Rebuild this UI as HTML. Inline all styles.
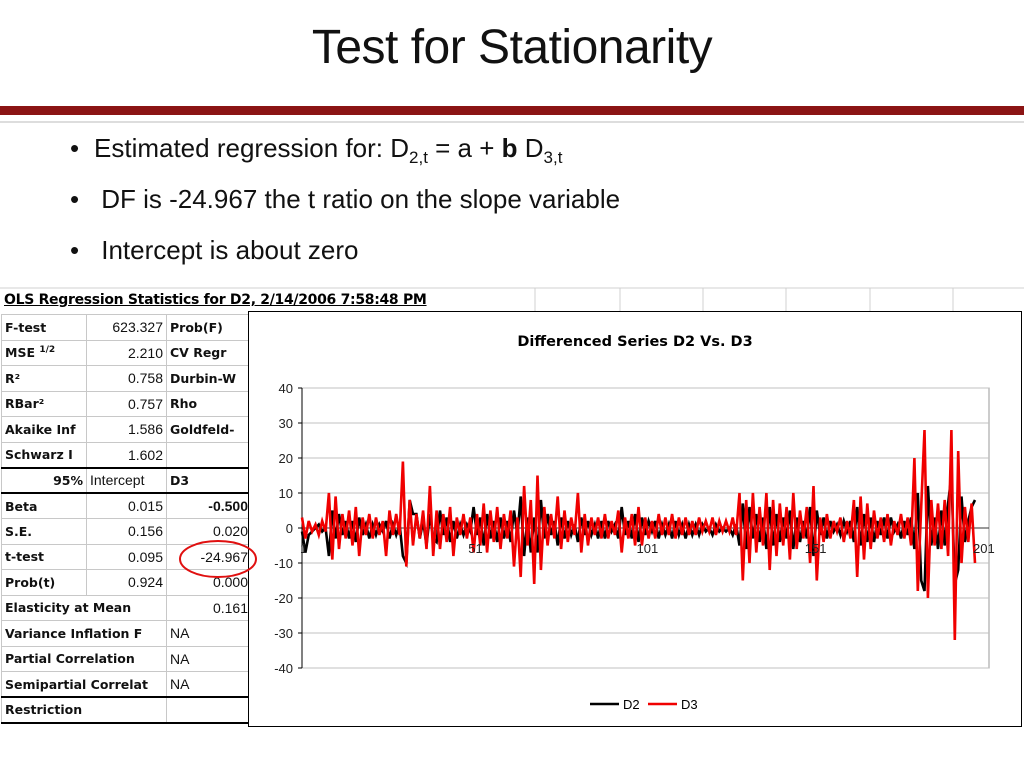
<!DOCTYPE html>
<html><head><meta charset="utf-8"><style>
body{margin:0;width:1024px;height:768px;background:#fff;position:relative;overflow:hidden;font-family:"Liberation Sans",sans-serif}
.abs{position:absolute}
#title{left:0;width:1024px;top:20px;text-align:center;font-size:48px;color:#111;letter-spacing:-0.5px}
.bul{font-size:26px;color:#111;left:70px}
.bul span.dot{display:inline-block;width:24px}
table{border-collapse:collapse;font-family:"DejaVu Sans",sans-serif;font-size:12.5px;font-weight:bold;color:#111;table-layout:fixed}
tr{height:25.5px}
td{border:1px solid #c8c8c8;height:25.5px;padding:0 3px;white-space:nowrap;overflow:hidden;box-sizing:border-box}
td.n{text-align:right;font-weight:normal;font-family:"Liberation Sans",sans-serif;font-size:14px}
tr.thick td{border-bottom:2px solid #000}
</style></head><body>
<div id="title" class="abs">Test for Stationarity</div>
<div class="abs" style="left:0;top:106px;width:1024px;height:9px;background:#8b1414"></div>
<div class="abs" style="left:0;top:121px;width:1024px;height:2px;background:#ddd"></div>
<div class="abs bul" style="top:133px"><span class="dot">•</span>Estimated regression for: D<sub style="font-size:17px">2,t</sub> = a + <b>b</b> D<sub style="font-size:17px">3,t</sub></div>
<div class="abs bul" style="top:184px"><span class="dot">•</span> DF is -24.967 the t ratio on the slope variable</div>
<div class="abs bul" style="top:235px"><span class="dot">•</span> Intercept is about zero</div>

<svg class="abs" style="left:0;top:285px" width="1024" height="30">
<line x1="0" y1="3" x2="1024" y2="3" stroke="#d0d0d0"/>
<g stroke="#d0d0d0"><line x1="535" y1="3" x2="535" y2="30"/><line x1="620" y1="3" x2="620" y2="30"/><line x1="703" y1="3" x2="703" y2="30"/><line x1="786" y1="3" x2="786" y2="30"/><line x1="870" y1="3" x2="870" y2="30"/><line x1="953" y1="3" x2="953" y2="30"/></g>
</svg>
<div class="abs" style="left:4px;top:292px;font-family:'DejaVu Sans',sans-serif;font-size:14px;font-weight:bold;text-decoration:underline;letter-spacing:-0.3px">OLS Regression Statistics for D2, 2/14/2006 7:58:48 PM</div>
<table class="abs" style="left:1px;top:314px;width:250px">
<colgroup><col style="width:85px"><col style="width:80px"><col style="width:85px"></colgroup>
<tr><td>F-test</td><td class="n">623.327</td><td>Prob(F)</td></tr>
<tr><td>MSE <sup style="font-size:9px">1/2</sup></td><td class="n">2.210</td><td>CV Regr</td></tr>
<tr><td>R²</td><td class="n">0.758</td><td>Durbin-W</td></tr>
<tr><td>RBar²</td><td class="n">0.757</td><td>Rho</td></tr>
<tr><td>Akaike Inf</td><td class="n">1.586</td><td>Goldfeld-</td></tr>
<tr class="thick"><td>Schwarz I</td><td class="n">1.602</td><td></td></tr>
<tr class="thick"><td style="text-align:right">95%</td><td style="font-weight:normal;font-family:'Liberation Sans';font-size:14px">Intercept</td><td>D3</td></tr>
<tr><td>Beta</td><td class="n">0.015</td><td class="n" style="font-weight:bold">-0.500</td></tr>
<tr><td>S.E.</td><td class="n">0.156</td><td class="n">0.020</td></tr>
<tr><td>t-test</td><td class="n">0.095</td><td class="n">-24.967</td></tr>
<tr><td>Prob(t)</td><td class="n">0.924</td><td class="n">0.000</td></tr>
<tr><td colspan="2">Elasticity at Mean</td><td class="n">0.161</td></tr>
<tr><td colspan="2">Variance Inflation F</td><td class="n" style="text-align:left">NA</td></tr>
<tr><td colspan="2">Partial Correlation</td><td class="n" style="text-align:left">NA</td></tr>
<tr class="thick"><td colspan="2">Semipartial Correlat</td><td class="n" style="text-align:left">NA</td></tr>
<tr class="thick"><td colspan="2">Restriction</td><td></td></tr>
</table>

<svg id="chart" class="abs" style="left:0;top:0" width="1024" height="768"></svg>
<script>
const d2=[-1,-7,-2,-1,0,1,-1,0,-8,5, -3,4,-2,2,-3,2,-4,3,-2,1, -3,1,-2,1,-1,2,-3,1,-2,1, -8,-10,8,4,4,-3,2,-5,4,-3, -4,5,-2,3,-4,2,-3,1,-2,1, -1,6,-2,3,-5,4,-3,2,-4,3, -3,2,-4,5,-2,9,-8,3,-7,3, -7,8,-3,4,-2,2,-5,3,-3,2, -2,1,-4,3,-2,2,-2,1,-3,2, -3,2,-1,1,-3,6,-2,2,-3,4, -4,3,-2,2,-1,2,-3,1,-2,1, -3,2,-2,1,-3,1,-2,1,-2,1, -1,0,-2,1,-1,0,-1,0,-2,1, -5,7,-6,6,-3,4,-4,3,-6,6, -5,4,-4,3,-3,5,-6,3,-4,2, -3,6,-8,5,-2,3,-3,2,-1,1, -2,2,-1,2,-4,6,-5,4,-4,3, -4,2,-2,3,-3,3,-1,1,-3,2, -2,3,-6,10,-15,-18,12,-5,3,-6, 5,-5,7,15,-16,-12,9,-4,2,6,8];
const d3=[3,-3,2,-1,1,-2,2,-1,10,-9, 9,-6,4,-3,5,-5,6,-8,3,-2, 4,-3,3,-2,2,-8,5,-2,4,-2, 19,-11,8,-5,4,-3,5,-6,12,-8, 5,-6,4,-4,6,-8,3,-2,4,-3, 3,-7,4,-5,7,-7,5,-4,6,-6, 4,-3,5,-11,3,-14,12,-5,8,-16, 15,-12,6,-5,4,-3,9,-6,5,-4, 3,-2,10,-7,4,-5,3,-2,3,-3, 4,-3,2,-2,5,-7,3,-3,4,-5, 6,-5,3,-3,2,-3,4,-2,3,-2, 4,-3,3,-2,3,-2,2,-2,3,-1, 2,-1,3,-2,2,-1,2,-1,3,-2, 10,-15,8,-10,10,-7,6,-5,10,-12, 8,-8,7,-5,6,-9,10,-6,5,-3, 6,-10,12,-15,3,-4,4,-3,2,-1, 3,-4,2,-3,8,-14,9,-9,7,-6, 5,-3,3,-4,4,-5,2,-2,4,-3, 3,-5,20,-18,6,28,-20,8,-5,7, -6,8,-8,28,-32,22,-10,6,-4,7,-10];
const yTicks=[40,30,20,10,0,-10,-20,-30,-40];
const xTicks=[1,51,101,151,201];
const seriesNames=["D2","D3"];
const NS="http://www.w3.org/2000/svg";
const svg=document.getElementById('chart');
function mk(t,a,p){const e=document.createElementNS(NS,t);for(const k in a)e.setAttribute(k,a[k]);(p||svg).appendChild(e);return e;}
const X0=302,X1=989,Y0=388,Y1=668;
const xs=i=>X0+(i-1)*(975-302)/200;
const ys=v=>Y0+(40-v)*(Y1-Y0)/80;
let box=mk('rect',{x:248.5,y:311.5,width:773,height:415,fill:'#fff',stroke:'#000'});


let t=mk('text',{x:635,y:346,'text-anchor':'middle','font-family':'DejaVu Sans,sans-serif','font-weight':'bold','font-size':'14.5'});
t.textContent='Differenced Series D2 Vs. D3';


let pa=mk('rect',{x:X0,y:Y0,width:X1-X0,height:Y1-Y0,fill:'none',stroke:'#999'});


yTicks.forEach(v=>{
  const g=mk('line',{x1:X0,x2:X1,y1:ys(v),y2:ys(v),stroke:v===0?'#333':'#c0c0c0'});
  
  
  mk('line',{x1:X0-4,x2:X0,y1:ys(v),y2:ys(v),stroke:'#000'});
  const l=mk('text',{x:X0-9,y:ys(v)+5,'text-anchor':'end','font-size':'13','font-family':'Liberation Sans,sans-serif',fill:'#222'});
  l.textContent=v;
  
  
});
mk('line',{x1:X0,x2:X0,y1:Y0,y2:Y1,stroke:'#000'});
function path(arr,color,name){
  let d='';arr.forEach((v,i)=>{d+=(i?'L':'M')+xs(i+1).toFixed(1)+','+ys(v).toFixed(1);});
  const p=mk('path',{d:d,fill:'none',stroke:color,'stroke-width':2.6,'stroke-linejoin':'miter'});
  
  
}
path(d2,'#000','series-d2');
path(d3,'#f00000','series-d3');
xTicks.forEach(v=>{
  const l=mk('text',{x:xs(v)-2,y:ys(0)+25,'font-size':'13','font-family':'Liberation Sans,sans-serif',fill:'#222'});
  l.textContent=v;
  
  
});
const lc=['#000','#f00000'];
seriesNames.forEach((n,i)=>{
  const bx=590+i*58;
  const g=mk('g',{});
  
  
  mk('line',{x1:bx,x2:bx+29,y1:704,y2:704,stroke:lc[i],'stroke-width':2.6},g);
  const tx=mk('text',{x:bx+33,y:709,'font-size':'13','font-family':'Liberation Sans,sans-serif'},g);
  tx.textContent=n;
});
const c=mk('ellipse',{cx:218,cy:559,rx:38,ry:18,fill:'none',stroke:'#e01010','stroke-width':2});


</script>
</body></html>
